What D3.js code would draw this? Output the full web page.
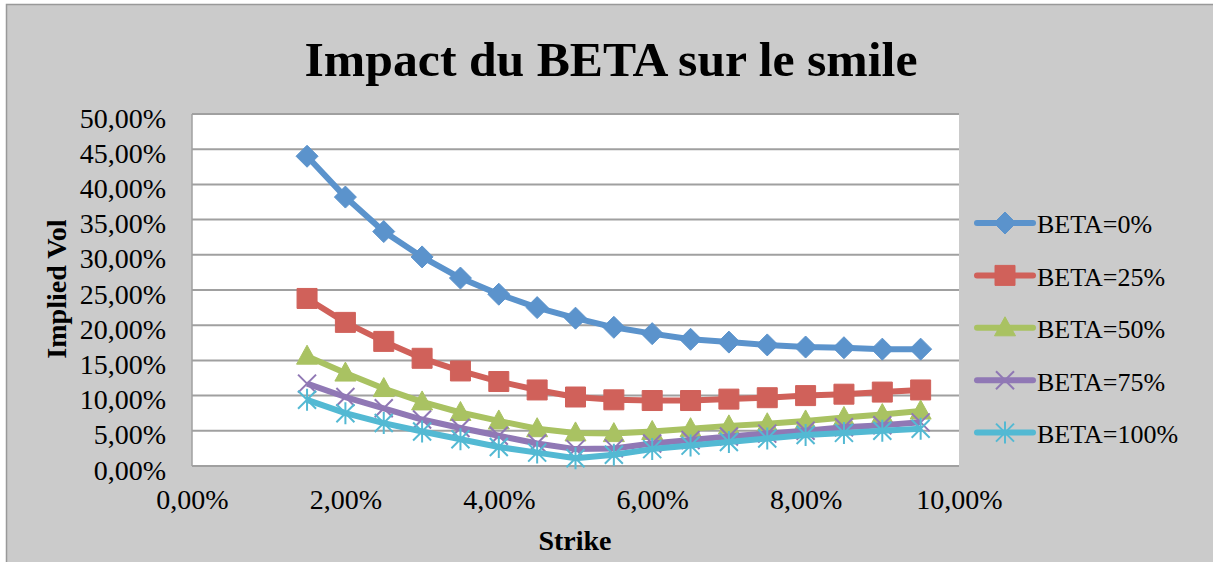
<!DOCTYPE html>
<html>
<head>
<meta charset="utf-8">
<script src="https://cdn.jsdelivr.net/npm/d3@7"></script>
<style>
  body { margin: 0; background: #fff; }
  text { font-family: "Liberation Serif", "DejaVu Serif", serif; fill: #000; }
</style>
</head>
<body>
<svg width="1213" height="562"></svg>
<script>
// strikes (x) and implied vol per BETA
var strikes = [0.015, 0.02, 0.025, 0.03, 0.035, 0.04, 0.045, 0.05, 0.055,
               0.06, 0.065, 0.07, 0.075, 0.08, 0.085, 0.09, 0.095];
var beta0   = [0.440, 0.382, 0.333, 0.297, 0.267, 0.244, 0.225, 0.210, 0.197,
               0.188, 0.180, 0.176, 0.172, 0.169, 0.168, 0.166, 0.166];
var beta25  = [0.238, 0.204, 0.177, 0.153, 0.135, 0.120, 0.108, 0.098, 0.094,
               0.093, 0.093, 0.095, 0.097, 0.100, 0.102, 0.105, 0.108];
var beta50  = [0.156, 0.132, 0.110, 0.091, 0.076, 0.064, 0.053, 0.047, 0.046,
               0.049, 0.053, 0.057, 0.060, 0.064, 0.069, 0.073, 0.078];
var beta75  = [0.117, 0.098, 0.082, 0.066, 0.054, 0.043, 0.032, 0.024, 0.025,
               0.032, 0.037, 0.042, 0.046, 0.050, 0.055, 0.058, 0.062];
var beta100 = [0.094, 0.075, 0.061, 0.049, 0.038, 0.027, 0.019, 0.011, 0.016,
               0.024, 0.029, 0.034, 0.039, 0.044, 0.047, 0.050, 0.053];
var seriesNames = ['BETA=0%', 'BETA=25%', 'BETA=50%', 'BETA=75%', 'BETA=100%'];
var xTicks = [0, 0.02, 0.04, 0.06, 0.08, 0.10];
var yTicks = [0, 0.05, 0.10, 0.15, 0.20, 0.25, 0.30, 0.35, 0.40, 0.45, 0.50];

var series = [
  { name: seriesNames[0], values: beta0,   color: '#5b93cc', marker: 'diamond' },
  { name: seriesNames[1], values: beta25,  color: '#d0615a', marker: 'square' },
  { name: seriesNames[2], values: beta50,  color: '#a9c262', marker: 'triangle' },
  { name: seriesNames[3], values: beta75,  color: '#9078b5', marker: 'x' },
  { name: seriesNames[4], values: beta100, color: '#53b9d3', marker: 'star' }
];

var fr = d3.formatLocale({ decimal: ',', thousands: ' ', grouping: [3], currency: ['', ' €'] });
var pct = fr.format('.2%');

var svg = d3.select('svg');

// chart background
svg.append('rect')
  .attr('x', 6.5).attr('y', 4.5)
  .attr('width', 1220).attr('height', 570)
  .style('fill', '#cbcbcb')
  .style('stroke', '#999')
  .style('stroke-width', 1.5);

var x = d3.scaleLinear().domain([0, 0.10]).range([192, 959]);
var y = d3.scaleLinear().domain([0, 0.50]).range([466, 114]);

// plot area
svg.append('rect')
  .attr('x', x(0)).attr('y', y(0.5))
  .attr('width', x(0.10) - x(0)).attr('height', y(0) - y(0.5))
  .style('fill', '#fff');

svg.append('g')
  .selectAll('line')
  .data(yTicks)
  .enter()
  .append('line')
  .attr('x1', x(0)).attr('x2', x(0.10))
  .attr('y1', function(d){ return y(d); })
  .attr('y2', function(d){ return y(d); })
  .style('stroke', '#a0a0a0')
  .style('stroke-width', 2);

svg.append('line')
  .attr('x1', x(0)).attr('x2', x(0))
  .attr('y1', y(0.5)).attr('y2', y(0))
  .style('stroke', '#a0a0a0')
  .style('stroke-width', 1.5);

// axes
var yAxis = d3.axisLeft(y).tickValues(yTicks).tickFormat(pct).tickSize(0).tickPadding(26);
var gy = svg.append('g')
  .attr('transform', 'translate(' + x(0) + ',0)')
  .call(yAxis);
gy.select('.domain').remove();
gy.selectAll('text')
  .attr('dy', '0.47em')
  .style('font-family', '"Liberation Serif", serif')
  .style('font-size', '28px');

var xAxis = d3.axisBottom(x).tickValues(xTicks).tickFormat(pct).tickSize(0).tickPadding(23);
var gx = svg.append('g')
  .attr('transform', 'translate(0,' + y(0) + ')')
  .call(xAxis);
gx.select('.domain').remove();
gx.selectAll('text')
  .style('font-family', '"Liberation Serif", serif')
  .style('font-size', '28px');

// marker paths centred on 0,0
function markerPath(type) {
  if (type == 'diamond') return 'M0,-11L11,0L0,11L-11,0Z';
  if (type == 'square') return 'M-10,-10H10V10H-10Z';
  if (type == 'triangle') return 'M0,-11L10.5,8L-10.5,8Z';
  if (type == 'x') return 'M-9,-9L9,9M-9,9L9,-9';
  return 'M-9,-9L9,9M-9,9L9,-9M0,-11V11';
}
function isFilled(type) {
  return type == 'diamond' || type == 'square' || type == 'triangle';
}

var line = d3.line()
  .x(function(d){ return x(d[0]); })
  .y(function(d){ return y(d[1]); });

series.forEach(function(s) {
  var pts = strikes.map(function(k, i){ return [k, s.values[i]]; });
  var g = svg.append('g');
  g.append('path')
    .datum(pts)
    .attr('d', line)
    .style('fill', 'none')
    .style('stroke', s.color)
    .style('stroke-width', 6)
    .style('stroke-linejoin', 'round');
  g.selectAll('path.mk')
    .data(pts)
    .enter()
    .append('path')
    .attr('class', 'mk')
    .attr('transform', function(d){ return 'translate(' + x(d[0]) + ',' + y(d[1]) + ')'; })
    .attr('d', markerPath(s.marker))
    .style('fill', isFilled(s.marker) ? s.color : 'none')
    .style('stroke', s.color)
    .style('stroke-width', isFilled(s.marker) ? 1 : 2);
});

// legend
var legend = svg.append('g')
  .selectAll('g')
  .data(series)
  .enter()
  .append('g')
  .attr('transform', function(d, i){ return 'translate(977,' + (223 + i * 52.4) + ')'; });

legend.append('line')
  .attr('x1', 0).attr('x2', 56)
  .style('stroke', function(d){ return d.color; })
  .style('stroke-width', 6)
  .style('stroke-linecap', 'round');
legend.append('path')
  .attr('transform', 'translate(28,0)')
  .attr('d', function(d){ return markerPath(d.marker); })
  .style('fill', function(d){ return isFilled(d.marker) ? d.color : 'none'; })
  .style('stroke', function(d){ return d.color; })
  .style('stroke-width', function(d){ return isFilled(d.marker) ? 1 : 2; });
legend.append('text')
  .attr('x', 60)
  .attr('dy', '0.4em')
  .style('font-size', '26px')
  .text(function(d){ return d.name; });

// titles
svg.append('text')
  .attr('x', 611).attr('y', 76)
  .attr('text-anchor', 'middle')
  .attr('textLength', 613)
  .attr('lengthAdjust', 'spacingAndGlyphs')
  .style('font-size', '48px')
  .style('font-weight', 'bold')
  .text('Impact du BETA sur le smile');

svg.append('text')
  .attr('x', 575).attr('y', 550)
  .attr('text-anchor', 'middle')
  .style('font-size', '28px')
  .style('font-weight', 'bold')
  .text('Strike');

svg.append('text')
  .attr('transform', 'translate(66,289)rotate(-90)')
  .attr('text-anchor', 'middle')
  .style('font-size', '28px')
  .style('font-weight', 'bold')
  .text('Implied Vol');
</script>
</body>
</html>
